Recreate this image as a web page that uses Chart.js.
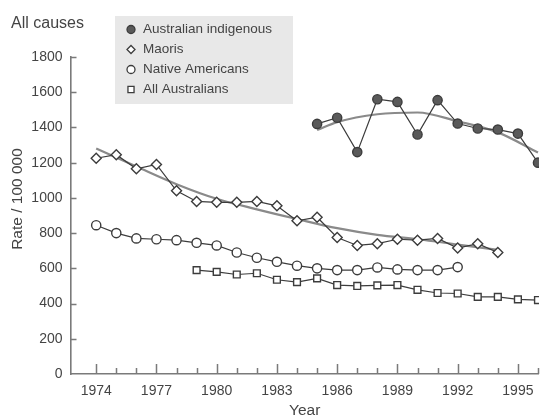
<!DOCTYPE html>
<html>
<head>
<meta charset="utf-8">
<script src="https://cdn.jsdelivr.net/npm/chart.js@4/dist/chart.umd.min.js"></script>
<style>
  html, body { margin: 0; padding: 0; background: #fff; overflow: hidden; }
  canvas { display: block; }
</style>
</head>
<body>
<canvas id="chart" width="547" height="416"></canvas>
<script>
// All-cause mortality, rate per 100 000
const indigenousYears = [1985, 1986, 1987, 1988, 1989, 1990, 1991, 1992, 1993, 1994, 1995, 1996];
const indigenousRates = [1420, 1455, 1260, 1560, 1545, 1360, 1555, 1422, 1394, 1388, 1365, 1200];
const indigenousTrendYears = [1985, 1986, 1988, 1990, 1992, 1994, 1996];
const indigenousTrendRates = [1385, 1430, 1475, 1485, 1435, 1372, 1258];

const maoriYears = [1974, 1975, 1976, 1977, 1978, 1979, 1980, 1981, 1982, 1983, 1984,
                    1985, 1986, 1987, 1988, 1989, 1990, 1991, 1992, 1993, 1994];
const maoriRates = [1225, 1245, 1165, 1190, 1040, 980, 975, 975, 980, 955, 870,
                    890, 775, 730, 740, 765, 760, 770, 715, 740, 690];
const maoriTrendYears = [1974, 1976, 1978, 1980, 1982, 1984, 1986, 1988, 1990, 1992, 1994];
const maoriTrendRates = [1280, 1178, 1078, 995, 935, 880, 828, 790, 765, 735, 705];

const nativeAmericanYears = [1974, 1975, 1976, 1977, 1978, 1979, 1980, 1981, 1982, 1983,
                             1984, 1985, 1986, 1987, 1988, 1989, 1990, 1991, 1992];
const nativeAmericanRates = [845, 800, 770, 765, 760, 745, 730, 690, 660, 637,
                             615, 600, 590, 590, 605, 594, 590, 590, 607];

const allAustralianYears = [1979, 1980, 1981, 1982, 1983, 1984, 1985, 1986, 1987,
                            1988, 1989, 1990, 1991, 1992, 1993, 1994, 1995, 1996];
const allAustralianRates = [590, 580, 565, 572, 535, 522, 543, 505, 500,
                            503, 505, 478, 460, 457, 438, 438, 424, 420];

const yearLabels = [1974, 1977, 1980, 1983, 1986, 1989, 1992, 1995];
const rateTicks = [0, 200, 400, 600, 800, 1000, 1200, 1400, 1600, 1800];

const seriesNames = ['Australian indigenous', 'Maoris', 'Native Americans', 'All Australians'];

const FONT = '"Liberation Sans", Arial, Helvetica, sans-serif';
const INK = '#444';
const LINE = '#3c3c3c';
const TREND = '#8a8a8a';
const AXIS = '#7a7a7a';

const toPoints = (xs, ys) => xs.map((x, i) => ({ x, y: ys[i] }));

function markerSeries(label, xs, ys, style, fill, radius) {
  return {
    label,
    data: toPoints(xs, ys),
    borderColor: LINE,
    borderWidth: 1.2,
    pointStyle: style,
    pointRadius: radius,
    pointBackgroundColor: fill,
    pointBorderColor: LINE,
    pointBorderWidth: 1.4,
    tension: 0,
    fill: false
  };
}

function trendSeries(xs, ys) {
  return {
    label: 'trend',
    data: toPoints(xs, ys),
    borderColor: TREND,
    borderWidth: 2.2,
    pointRadius: 0,
    cubicInterpolationMode: 'monotone',
    fill: false
  };
}

const datasets = [
  markerSeries(seriesNames[0], indigenousYears, indigenousRates, 'circle', '#5a5a5a', 4.6),
  markerSeries(seriesNames[1], maoriYears, maoriRates, 'rectRot', '#fff', 5),
  markerSeries(seriesNames[2], nativeAmericanYears, nativeAmericanRates, 'circle', '#fff', 4.6),
  markerSeries(seriesNames[3], allAustralianYears, allAustralianRates, 'rect', '#fff', 4.8),
  trendSeries(indigenousTrendYears, indigenousTrendRates),
  trendSeries(maoriTrendYears, maoriTrendRates)
];

// Short tick marks that point into the plot area
const inwardTicks = {
  id: 'inwardTicks',
  beforeDatasetsDraw(chart) {
    const { ctx, scales: { x, y } } = chart;
    ctx.save();
    ctx.strokeStyle = AXIS;
    ctx.lineWidth = 1.5;
    ctx.beginPath();
    x.ticks.forEach(t => {
      const v = Math.round(t.value);
      if (v < yearLabels[0]) return;
      const px = Math.round(x.getPixelForValue(v)) + 0.5;
      const len = yearLabels.includes(v) ? 10 : 6;
      ctx.moveTo(px, y.bottom);
      ctx.lineTo(px, y.bottom - len);
    });
    y.ticks.forEach(t => {
      if (t.value === 0) return;
      const py = Math.round(y.getPixelForValue(t.value)) + 0.5;
      ctx.moveTo(x.left, py);
      ctx.lineTo(x.left + 6, py);
    });
    ctx.stroke();
    ctx.restore();
  }
};

// Heading, axis titles and the grey legend panel
const annotations = {
  id: 'annotations',
  afterDraw(chart) {
    const { ctx, chartArea } = chart;
    ctx.save();
    ctx.fillStyle = INK;
    ctx.textBaseline = 'middle';

    ctx.font = '16px ' + FONT;
    ctx.textAlign = 'left';
    ctx.fillText('All causes', 11, 24);

    ctx.font = '15.5px ' + FONT;
    ctx.textAlign = 'center';
    ctx.fillText('Year', (chartArea.left + chartArea.right) / 2, 411);

    ctx.save();
    ctx.translate(18, 199);
    ctx.rotate(-Math.PI / 2);
    ctx.fillText('Rate / 100 000', 0, 0);
    ctx.restore();

    // legend panel
    ctx.fillStyle = '#e8e8e8';
    ctx.fillRect(115, 16, 178, 88);
    ctx.font = '13.5px ' + FONT;
    ctx.textAlign = 'left';
    for (let i = 0; i < 4; i++) {
      const ds = chart.data.datasets[i];
      const cy = 29.5 + i * 20;
      ctx.fillStyle = ds.pointBackgroundColor;
      ctx.strokeStyle = ds.pointBorderColor;
      ctx.lineWidth = 1.3;
      const opts = { pointStyle: ds.pointStyle, rotation: 0, radius: ds.pointStyle === 'rect' ? 4.3 : 4, borderWidth: 1.3 };
      Chart.helpers.drawPoint(ctx, opts, 131, cy);
      ctx.fillStyle = INK;
      ctx.fillText(ds.label, 143, cy);
    }
    ctx.restore();
  }
};

new Chart(document.getElementById('chart'), {
  type: 'line',
  data: { datasets },
  options: {
    responsive: false,
    devicePixelRatio: 1,
    animation: false,
    events: [],
    layout: { padding: { top: 57, right: 0, bottom: 0, left: 0 } },
    plugins: {
      legend: { display: false },
      tooltip: { enabled: false },
      title: { display: false }
    },
    scales: {
      x: {
        type: 'linear',
        min: 1972.72,
        max: 1996.05,
        afterFit(scale) { scale.height = 42; },
        grid: { display: false, drawTicks: false },
        border: { display: true, color: AXIS, width: 1.6 },
        ticks: {
          stepSize: 1,
          includeBounds: false,
          autoSkip: false,
          maxRotation: 0,
          padding: 9,
          color: INK,
          font: { family: FONT, size: 14 },
          callback: v => yearLabels.includes(Math.round(v)) ? String(Math.round(v)) : ''
        }
      },
      y: {
        min: rateTicks[0],
        max: rateTicks[rateTicks.length - 1],
        afterFit(scale) { scale.width = 70.5; },
        afterBuildTicks(scale) { scale.ticks = rateTicks.map(v => ({ value: v })); },
        grid: { display: false, drawTicks: false },
        border: { display: true, color: AXIS, width: 1.6 },
        ticks: {
          padding: 8,
          color: INK,
          font: { family: FONT, size: 14 },
          callback: v => String(v)
        }
      }
    }
  },
  plugins: [inwardTicks, annotations]
});
</script>
</body>
</html>
